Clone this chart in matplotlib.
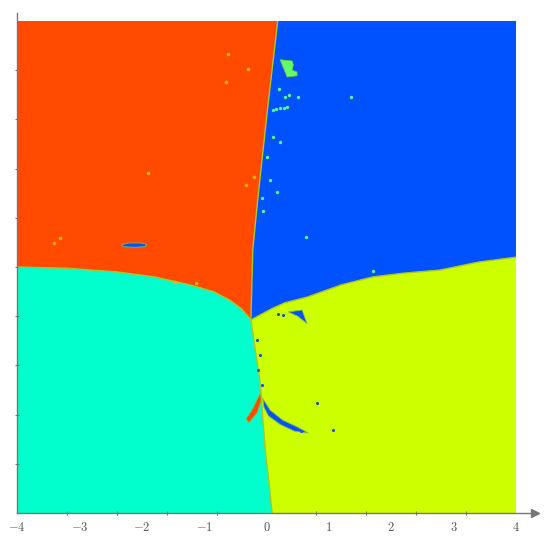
import numpy as np
import matplotlib
matplotlib.use('Agg')
import matplotlib.pyplot as plt

plt.rcParams['mathtext.fontset'] = 'cm'

# fronteras entre cuencas (coordenadas del plano)
frontera_sup = [(0.18, 4.0), (0.02, 2.6), (-0.13, 1.2), (-0.22, 0.28), (-0.25, -0.86)]
frontera_izq = [(-4.0, 0.0), (-3.2, -0.02), (-2.4, -0.08), (-1.8, -0.16), (-1.23, -0.29),
                (-0.85, -0.40), (-0.59, -0.54), (-0.40, -0.68), (-0.25, -0.86)]
frontera_der = [(4.0, 0.16), (3.4, 0.08), (2.78, -0.05), (2.2, -0.10), (1.71, -0.16),
                (1.2, -0.29), (0.65, -0.49), (0.30, -0.58), (0.10, -0.67), (-0.25, -0.86)]
frontera_inf = [(-0.25, -0.86), (-0.18, -1.35), (-0.10, -1.89), (-0.06, -2.45),
                (-0.02, -2.98), (0.04, -3.5), (0.09, -4.0)]

colores = {'rojo': '#ff4a00', 'azul': '#0052ff', 'cian': '#00ffcc', 'lima': '#ccff00',
           'verde': '#5cff70'}

# manchas dentro de las cuencas
mancha_azul_roja = [(-2.32, 0.36), (-2.22, 0.39), (-2.02, 0.39), (-1.92, 0.37),
                    (-1.95, 0.33), (-2.10, 0.32), (-2.30, 0.33)]
mancha_roja = [(-0.10, -2.05), (-0.07, -2.13), (-0.15, -2.37), (-0.28, -2.53),
               (-0.33, -2.47), (-0.24, -2.34), (-0.18, -2.22)]
mancha_azul_curva = [(-0.06, -2.14), (0.06, -2.33), (0.26, -2.49), (0.49, -2.60),
                     (0.67, -2.70), (0.45, -2.67), (0.22, -2.56), (0.03, -2.42), (-0.04, -2.28)]
mancha_azul_tri = [(0.35, -0.73), (0.57, -0.70), (0.65, -0.92), (0.50, -0.80)]
mancha_verde = [(0.22, 3.37), (0.41, 3.35), (0.43, 3.29), (0.41, 3.20), (0.49, 3.17),
                (0.49, 3.11), (0.33, 3.09), (0.30, 3.17), (0.25, 3.29)]

puntos_naranja_x = [-0.62, -0.30, -0.65, -0.20, -0.33, -1.90, -3.41, -3.31, -1.47, -1.13]
puntos_naranja_y = [3.46, 3.22, 3.01, 1.46, 1.33, 1.53, 0.39, 0.47, -0.24, -0.26]

puntos_verde_x = [0.20, 0.30, 0.36, 0.50, 1.36, 0.10, 0.16, 0.22, 0.28, 0.33, 0.10, 0.22,
                  0.01, 0.06, 0.17, -0.07, -0.06, 0.63, 1.71]
puntos_verde_y = [2.89, 2.76, 2.80, 2.76, 2.76, 2.55, 2.57, 2.58, 2.59, 2.60, 2.11, 2.03,
                  1.79, 1.42, 1.22, 1.12, 0.91, 0.49, -0.07]

puntos_azul_x = [0.81, 1.07, -0.15, -0.10, -0.14, -0.07, 0.27, 0.18, 0.42, 0.55]
puntos_azul_y = [-2.21, -2.65, -1.19, -1.43, -1.68, -1.92, -0.78, -0.76, -2.62, -2.66]

fig = plt.figure(figsize=(5.5, 5.43), dpi=100)
ax = fig.add_axes([17 / 550, 30 / 543, 499 / 550, 492 / 543])

fs = np.array(frontera_sup)
fi = np.array(frontera_izq)
fd = np.array(frontera_der)
fb = np.array(frontera_inf)

rojo = np.vstack([[(-4, 4)], fs, fi[::-1]])
azul = np.vstack([[(4, 4)], [(4, fd[0, 1])], fd, fs[::-1]])
cian = np.vstack([fi, fb, [(-4, -4)]])
lima = np.vstack([fd[::-1], [(4, fd[0, 1])], [(4, -4)], fb[::-1]])

ax.fill(rojo[:, 0], rojo[:, 1], color=colores['rojo'], lw=0)
ax.fill(azul[:, 0], azul[:, 1], color=colores['azul'], lw=0)
ax.fill(cian[:, 0], cian[:, 1], color=colores['cian'], lw=0)
ax.fill(lima[:, 0], lima[:, 1], color=colores['lima'], lw=0)

for f in (fs, fi, fd, fb):
    ax.plot(f[:, 0], f[:, 1], color='#a8c628', lw=1.0)

for m, c in ((mancha_azul_roja, 'azul'), (mancha_roja, 'rojo'),
             (mancha_azul_curva, 'azul'), (mancha_azul_tri, 'azul'),
             (mancha_verde, 'verde')):
    m = np.array(m)
    ax.fill(m[:, 0], m[:, 1], color=colores[c], ec='#7fbf40', lw=0.6)

ax.plot(puntos_naranja_x, puntos_naranja_y, 'o', color='#f2b000', ms=2.6, mew=0)
ax.plot(puntos_verde_x, puntos_verde_y, 'o', color='#4dff88', ms=2.4, mew=0)
ax.plot(puntos_azul_x, puntos_azul_y, 'o', color='#0a4fe8', ms=2.2, mew=0)

ax.set_xlim(-4, 4)
ax.set_ylim(-4, 4)
for s in ax.spines.values():
    s.set_visible(False)

gris = '#777777'
ax.plot([-4, 4.26], [-4, -4], color=gris, lw=1, clip_on=False)
ax.plot([4.30], [-4], marker='>', color=gris, ms=6, clip_on=False)
ax.plot([-4, -4], [-4, 4.13], color=gris, lw=1, clip_on=False)

ax.set_xticks(range(-4, 5))
ax.set_xticklabels(['$%d$' % v for v in range(-4, 5)], fontsize=9, color='#555555')
ax.set_yticks([])
ax.set_xticks(np.arange(-3.2, 3.3, 0.8), minor=True)
ax.set_yticks(np.arange(-3.2, 3.3, 0.8), minor=True)
ax.tick_params(which='major', length=0, pad=6)
ax.tick_params(which='minor', length=3, direction='inout', color=gris, width=0.8)

fig.savefig('out.png', dpi=100)
